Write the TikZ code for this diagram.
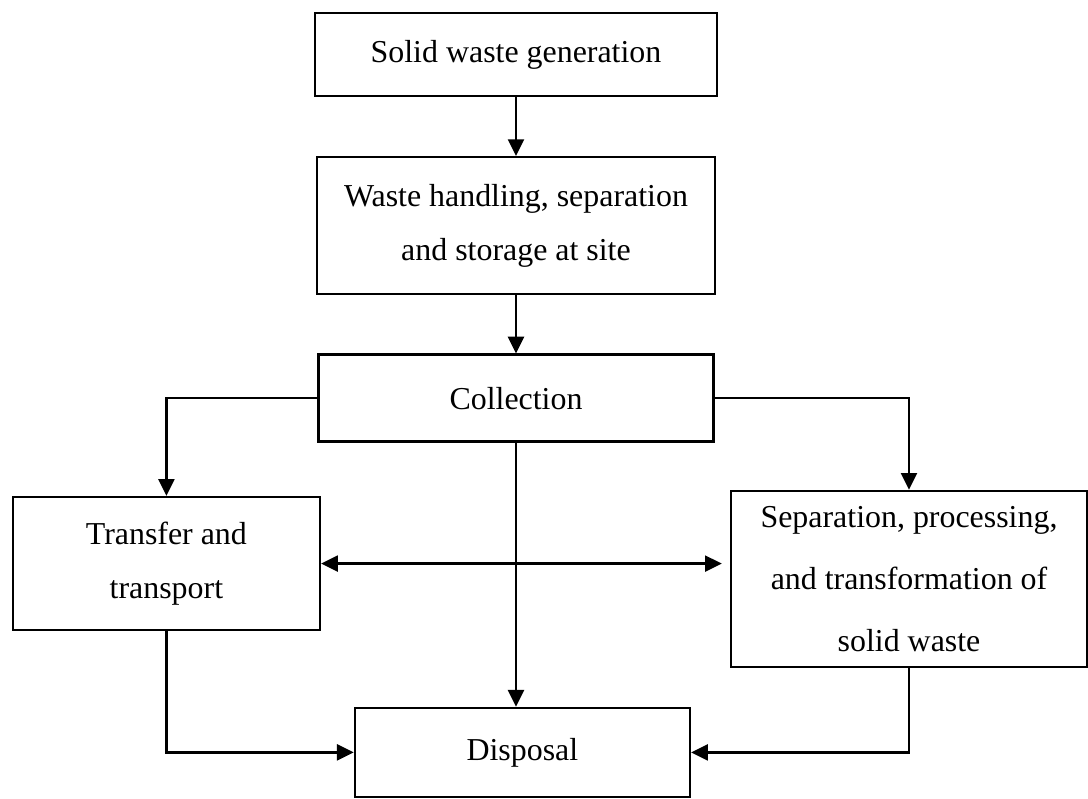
\documentclass[tikz,border=0pt]{standalone}
\usepackage{fontspec}
\setmainfont{Liberation Serif}
\usetikzlibrary{arrows.meta,positioning}

\begin{document}
\begin{tikzpicture}[
  node distance=14mm and 20mm,
  block/.style={
    rectangle, draw=black, line width=1.7pt,
    align=center, inner sep=0pt,
    font=\fontsize{22.7pt}{38.4pt}\selectfont
  },
  arrow/.style={
    -{Triangle[length=4.2mm,width=4mm]}, line width=1.7pt, black
  },
  twoway/.style={
    {Triangle[length=4.2mm,width=4mm]}-{Triangle[length=4.2mm,width=4mm]},
    line width=1.7pt, black
  }
]
\useasboundingbox (0,0) rectangle (27.2,19.95);

%% Main chain
\node[block, minimum width=100.5mm, minimum height=20.75mm] (gen) at (12.9,18.59) {Solid waste generation};
\node[block, minimum width=99.5mm, minimum height=34.25mm, below=14.75mm of gen] (handling) {Waste handling, separation\\and storage at site};
\node[block, minimum width=98.75mm, minimum height=21.75mm, below=14.5mm of handling] (coll) {Collection};

%% Branches
\node[block, minimum width=76.75mm, minimum height=33.25mm] (transfer) at (4.16,5.86) {Transfer and\\transport};
\node[block, minimum width=89mm, minimum height=44mm, font=\fontsize{22.7pt}{44pt}\selectfont] (sep) at (22.725,5.475) {Separation, processing,\\and transformation of\\solid waste};
\node[block, minimum width=83.75mm, minimum height=22.25mm] (disp) at (13.06,1.14) {Disposal};

%% Arrows
\draw[arrow] (gen) -- (handling);
\draw[arrow] (handling) -- (coll);
\draw[arrow] (coll.west) -| (transfer.north);
\draw[arrow] (coll.east) -| (sep.north);
\draw[arrow] (coll.south) -- (coll.south |- disp.north);
\draw[twoway, shorten >=2mm] (transfer.east) -- (transfer.east -| sep.west);
\draw[arrow] (transfer.south) |- (disp.west);
\draw[arrow] (sep.south) |- (disp.east);

\end{tikzpicture}
\end{document}
